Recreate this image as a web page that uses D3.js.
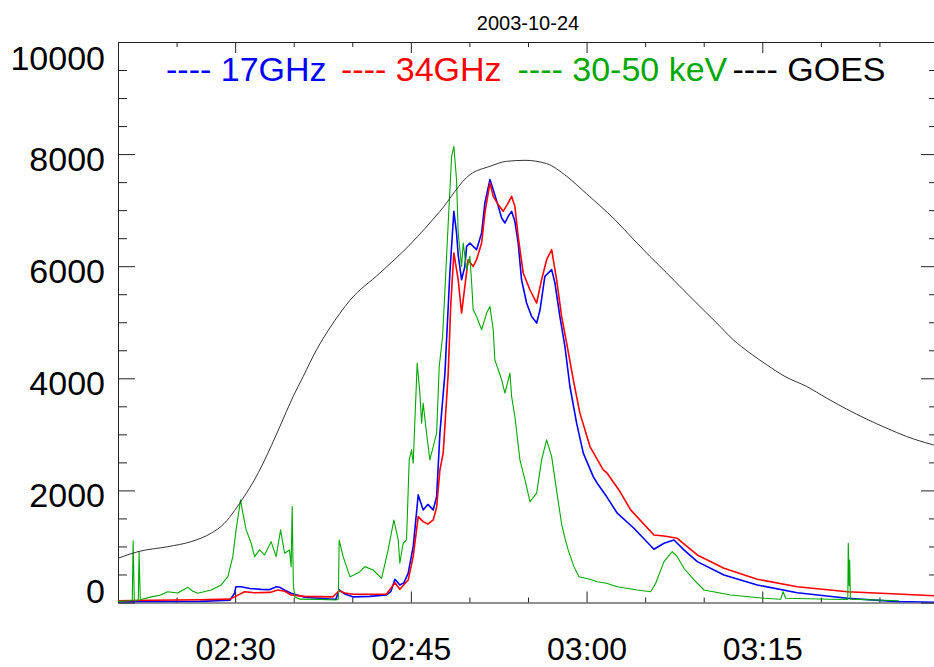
<!DOCTYPE html>
<html>
<head>
<meta charset="utf-8">
<script src="https://cdn.jsdelivr.net/npm/d3@7"></script>
<style>
  body { margin: 0; background: #fff; }
  svg { display: block; font-family: "Liberation Sans", Arial, Helvetica, sans-serif; }
  .axis path, .axis line { stroke: #222; stroke-width: 1; }
  .axis text { font-size: 34px; fill: #000; }
  .x-axis text { font-size: 32px; }
</style>
</head>
<body>
<svg class="vis-principal" width="934" height="667"></svg>
<script>
// tempos em minutos depois de 02:00 UT, 2003-10-24
const titulo = "2003-10-24";

const goes_t = [20.0, 21.7, 24.25, 26.24, 27.95, 29.09, 29.95, 30.8, 31.6, 32.39, 33.82, 34.95, 35.81,
  36.95, 38.09, 39.8, 42.36, 44.92, 47.48, 50.05, 51.75, 53.17, 54.74, 56.59, 58.3, 60.01, 61.14, 62.42,
  63.98, 65.41, 66.84, 68.25, 69.68, 71.11, 72.52, 73.95, 75.38, 76.94, 78.79, 80.5, 82.21, 83.91, 85.62,
  87.33, 89.6, 90.0];
const goes_v = [789, 907, 996, 1086, 1236, 1414, 1640, 1900, 2170, 2486, 3140, 3675, 4032,
  4509, 4900, 5390, 5879, 6384, 6979, 7634, 7782, 7871, 7889, 7830, 7604, 7290, 7080, 6830,
  6484, 6175, 5879, 5580, 5282, 4986, 4688, 4450, 4241, 4032, 3854, 3646, 3449, 3271, 3110,
  2961, 2812, 2790];

const hxr_t = [20.0, 21.0, 21.22, 21.29, 21.39, 21.73, 21.8, 21.9, 22.83, 23.57, 24.25, 25.1, 25.96, 26.39,
  26.81, 27.95, 28.8, 29.38, 29.8, 30.08, 30.46, 30.66, 30.94, 31.37, 31.66, 32.08, 32.51, 33.07, 33.5,
  33.88, 34.22, 34.64, 34.78, 34.87, 34.97, 35.1, 35.52, 37.23, 38.6, 38.81, 38.88, 39.22, 39.8, 40.22,
  40.65, 41.07, 41.78, 42.5, 43.06, 43.55, 43.92, 44.06, 44.34, 44.63, 44.86, 45.06, 45.2, 45.54, 45.77,
  45.92, 46.05, 46.34, 46.62, 46.91, 47.2, 47.42, 47.71, 47.91, 48.19, 48.48, 48.67, 48.9, 49.04, 49.33,
  49.47, 49.76, 50.04, 50.19, 50.32, 50.61, 51.04, 51.47, 51.75, 52.03, 52.17, 52.46, 52.75, 53.03, 53.46,
  53.6, 53.88, 54.31, 54.74, 55.17, 55.74, 56.16, 56.59, 57.02, 57.44, 57.87, 58.15, 58.43, 58.92, 59.35,
  60.29, 60.91, 61.71, 62.62, 64.33, 65.47, 65.9, 66.61, 67.31, 67.74, 68.31, 69.17, 70.02, 72.3, 75.15,
  76.57, 76.77, 77.0, 80.84, 82.3, 82.34, 82.42, 82.46, 82.52, 86.53, 86.67];
const hxr_v = [20, 30, 40, 1100, 40, 40, 900, 50, 100, 130, 193, 170, 271, 200,
  164, 223, 313, 461, 818, 1295, 1830, 1593, 1295, 1057, 818, 938, 848, 1086, 818,
  1295, 879, 938, 640, 1711, 300, 100, 60, 55, 45, 60, 1116, 818, 461, 500,
  550, 640, 580, 432, 938, 1473, 1116, 700, 1057, 1116, 2545, 2723, 2486, 4271, 3736,
  3200, 3557, 3021, 2545, 2782, 3021, 4211, 4746, 5580, 6771, 7961, 8139, 7545, 6593, 5996,
  6414, 5938, 6175, 5700, 5223, 5104, 4866, 5164, 5282, 4866, 4330, 4152, 3973, 3736, 4093,
  3675, 3318, 2545, 2188, 1800, 1950, 2545, 2902, 2604, 2000, 1400, 1150, 938, 640, 461,
  414, 371, 343, 282, 223, 193, 343, 729, 907, 818, 611, 402, 223, 134, 75,
  57, 193, 75, 57, 55, 1057, 300, 759, 60, 32, 30];

const f17_t = [20.0, 22.72, 26.98, 29.55, 29.95, 30.06, 30.51, 31.25, 32.22, 32.96, 33.53, 33.79, 34.24,
  34.78, 35.93, 38.34, 38.6, 38.88, 39.37, 40.08, 41.5, 42.93, 43.3, 43.64, 44.06, 44.4, 44.77, 45.2,
  45.63, 46.05, 46.45, 46.91, 47.2, 47.48, 47.91, 48.33, 48.67, 48.9, 49.04, 49.33, 49.61, 49.76, 50.04,
  50.32, 50.61, 51.04, 51.32, 51.75, 52.03, 52.46, 52.75, 53.03, 53.31, 53.6, 53.88, 54.16, 54.45, 54.88,
  55.31, 55.74, 56.03, 56.44, 57.02, 57.3, 57.72, 58.15, 58.58, 59.15, 59.72, 60.57, 60.91, 61.71, 62.62,
  64.04, 65.75, 66.61, 67.46, 68.31, 69.45, 71.73, 74.57, 77.99, 82.26, 86.53, 90.0];
const f17_v = [10, 15, 20, 40, 164, 280, 282, 250, 235, 230, 280, 271, 220,
  164, 93, 57, 60, 223, 150, 100, 110, 134, 200, 414, 312, 350, 521, 996,
  1920, 1652, 1750, 1652, 1890, 3021, 4093, 5879, 6980, 6593, 6200, 5759, 5996, 6354, 6414,
  6354, 6295, 6593, 7129, 7545, 7366, 7068, 6861, 6771, 6890, 6979, 6800, 6414, 5759, 5343,
  5104, 4986, 5223, 5818, 5938, 5700, 5104, 4568, 3854, 3200, 2664, 2246, 2128, 1890, 1593,
  1325, 950, 1057, 1116, 938, 729, 491, 313, 175, 75, 15, 4];

const f34_t = [20.0, 22.72, 26.98, 29.55, 29.95, 30.8, 31.68, 32.96, 33.65, 34.24, 34.78, 35.95, 38.34,
  38.88, 39.37, 40.08, 42.93, 43.64, 44.06, 44.77, 45.2, 45.63, 46.05, 46.45, 46.91, 47.2, 47.48, 47.76,
  48.19, 48.4, 48.67, 49.04, 49.33, 49.61, 49.89, 50.32, 50.61, 51.04, 51.32, 51.75, 52.03, 52.46, 52.88,
  53.31, 53.6, 53.88, 54.16, 54.59, 55.16, 55.74, 56.16, 56.59, 57.02, 57.44, 57.87, 58.3, 58.87, 59.43,
  60.29, 61.42, 61.76, 62.85, 63.76, 65.75, 66.61, 67.74, 69.45, 71.73, 74.57, 77.99, 82.26, 86.53, 90.0];
const f34_v = [30, 40, 50, 60, 100, 193, 175, 180, 223, 200, 134, 110, 100,
  210, 170, 146, 150, 354, 235, 400, 818, 1532, 1443, 1400, 1473, 1700, 2366, 2664,
  4093, 5282, 6236, 5759, 5164, 5639, 6116, 5996, 6116, 6414, 6950, 7486, 7247, 7098, 6979,
  7129, 7247, 7068, 6533, 5879, 5580, 5343, 5759, 6116, 6295, 5759, 5104, 4628, 3973, 3379,
  2782, 2366, 2307, 1979, 1652, 1205, 1187, 1146, 848, 611, 414, 282, 193, 152, 116];

const y_ticks = [0, 2000, 4000, 6000, 8000, 10000];
const x_ticks = ["02:30", "02:45", "03:00", "03:15"];

const legenda = [
  {nome: "17GHz", cor: "#0000ff"},
  {nome: "34GHz", cor: "#ff0000"},
  {nome: "30-50 keV", cor: "#00a800"},
  {nome: "GOES", cor: "#000000"}
];

const svg_prin = d3.select("svg.vis-principal");

const margin = {top: 42, right: 938, bottom: 602.5, left: 118};

const para_data = m => new Date(Date.UTC(2003, 9, 24, 2, 0) + m * 60000);
const hora = s => para_data(+s.slice(0, 2) * 60 + +s.slice(3) - 120);

const x = d3.scaleUtc()
  .domain([para_data(20), para_data(90)])
  .range([margin.left, margin.right]);

const y = d3.scaleLinear()
  .domain([0, 10000])
  .range([margin.bottom, margin.top]);

// ticks menores
const y_menores = d3.range(0, 10001, 500).filter(d => d % 2000 !== 0);
const x_menores = d3.range(20, 91, 5).filter(d => d % 15 !== 0).map(para_data);

svg_prin.append("defs").append("clipPath").attr("id", "recorte")
  .append("rect")
    .attr("x", margin.left).attr("y", margin.top)
    .attr("width", margin.right - margin.left)
    .attr("height", margin.bottom - margin.top);

// eixos
const $eixo_y = svg_prin.append("g")
    .attr("class", "axis y-axis")
    .attr("transform", "translate(" + margin.left + ",0)")
  .call(d3.axisLeft(y).tickValues(y_ticks).tickSize(-17).tickSizeOuter(0).tickPadding(13).tickFormat(d3.format("d")));

$eixo_y.selectAll("text")
  .attr("dy", d => d === 0 ? "0" : (d === 10000 ? "27.5px" : "0.47em"));

svg_prin.append("g")
    .attr("class", "axis")
    .attr("transform", "translate(" + margin.left + ",0)")
  .call(d3.axisLeft(y).tickValues(y_menores).tickSize(-9).tickFormat(""))
  .select(".domain").remove();

svg_prin.append("g")
    .attr("class", "axis")
    .attr("transform", "translate(" + margin.right + ",0)")
  .call(d3.axisRight(y).tickValues(y_ticks).tickSize(-17).tickSizeOuter(0).tickFormat(""));

svg_prin.append("g")
    .attr("class", "axis")
    .attr("transform", "translate(" + margin.right + ",0)")
  .call(d3.axisRight(y).tickValues(y_menores).tickSize(-9).tickFormat(""))
  .select(".domain").remove();

svg_prin.append("g")
    .attr("class", "axis x-axis")
    .attr("transform", "translate(0," + margin.bottom + ")")
  .call(d3.axisBottom(x).tickValues(x_ticks.map(hora)).tickSize(-11).tickSizeOuter(0)
    .tickPadding(34.5).tickFormat(d3.utcFormat("%H:%M")));

svg_prin.append("g")
    .attr("class", "axis")
    .attr("transform", "translate(0," + margin.bottom + ")")
  .call(d3.axisBottom(x).tickValues(x_menores).tickSize(-5).tickFormat(""))
  .select(".domain").remove();

svg_prin.append("g")
    .attr("class", "axis")
    .attr("transform", "translate(0," + margin.top + ")")
  .call(d3.axisTop(x).tickValues(x_ticks.map(hora)).tickSize(-11).tickSizeOuter(0).tickFormat(""));

svg_prin.append("g")
    .attr("class", "axis")
    .attr("transform", "translate(0," + margin.top + ")")
  .call(d3.axisTop(x).tickValues(x_menores).tickSize(-5).tickFormat(""))
  .select(".domain").remove();

// curvas
const series = [
  {t: f17_t, v: f17_v, cor: legenda[0].cor, larg: 1.6, curva: d3.curveLinear},
  {t: f34_t, v: f34_v, cor: legenda[1].cor, larg: 1.6, curva: d3.curveLinear},
  {t: hxr_t, v: hxr_v, cor: legenda[2].cor, larg: 1.1, curva: d3.curveLinear},
  {t: goes_t, v: goes_v, cor: "#333", larg: 1, curva: d3.curveMonotoneX}
];

const $curvas = svg_prin.append("g").attr("clip-path", "url(#recorte)");

for (const s of series) {
  const pontos = s.t.map((t, i) => [para_data(t), s.v[i]]);
  const linha = d3.line()
    .x(d => x(d[0]))
    .y(d => y(d[1]))
    .curve(s.curva);
  $curvas.append("path")
    .datum(pontos)
    .attr("fill", "none")
    .attr("stroke", s.cor)
    .attr("stroke-width", s.larg)
    .attr("stroke-linejoin", "round")
    .attr("d", linha);
}

// titulo
svg_prin.append("text")
  .attr("x", (margin.left + margin.right) / 2)
  .attr("y", 29.5)
  .attr("text-anchor", "middle")
  .style("font-size", "20px")
  .text(titulo);

// legenda
const pos_legenda = [166, 341, 517.5, 732.5];
svg_prin.selectAll("text.legenda")
  .data(legenda)
  .enter()
  .append("text")
    .attr("class", "legenda")
    .attr("x", (d, i) => pos_legenda[i])
    .attr("y", 80.7)
    .attr("fill", d => d.cor)
    .style("font-size", "34px")
    .text(d => "---- " + d.nome);
</script>
</body>
</html>
